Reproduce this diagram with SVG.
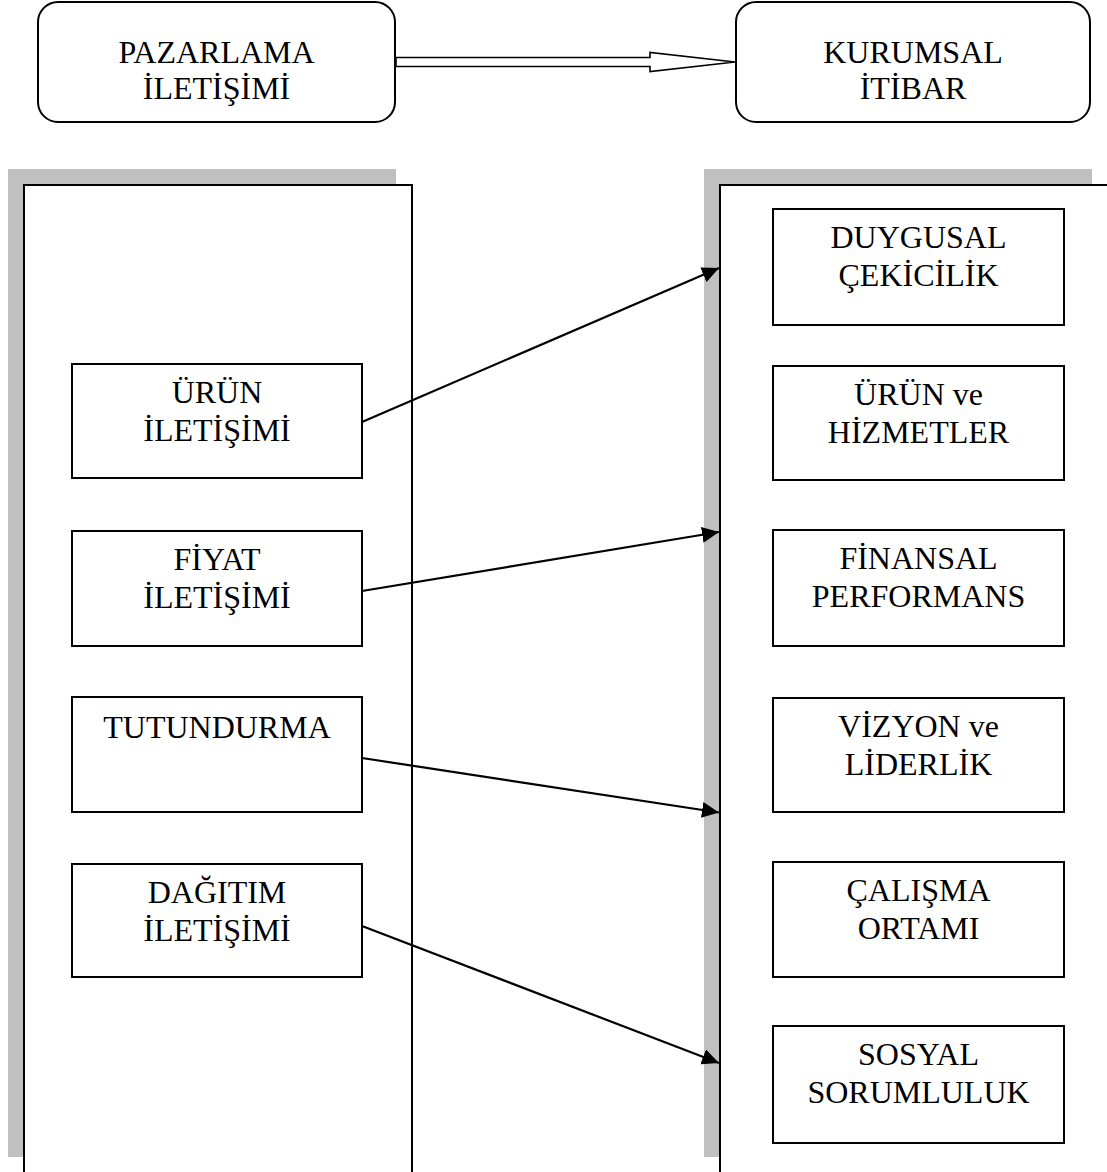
<svg xmlns="http://www.w3.org/2000/svg" width="1107" height="1172" viewBox="0 0 1107 1172">
<defs>
<style>
text{font-family:"Liberation Serif","Times New Roman",serif;font-size:32px;fill:#000;text-anchor:middle}
.box{fill:#fff;stroke:#000;stroke-width:2}
.shadow{fill:#c0c0c0}
.panel{fill:#fff;stroke:#000;stroke-width:2}
.conn{stroke:#000;stroke-width:2.2;fill:none}
</style>
<marker id="ah" markerUnits="userSpaceOnUse" markerWidth="18" markerHeight="16" refX="17" refY="8" orient="auto">
<path d="M0,0 L17,8 L0,16 Z" fill="#000"/>
</marker>
</defs>
<rect width="1107" height="1172" fill="#fff"/>
<g id="pazarlama">
<rect class="box" x="38" y="2" width="357" height="120" rx="20" ry="20"/>
<text x="216.5" y="63">PAZARLAMA</text>
<text x="216.5" y="99">İLETİŞİMİ</text>
</g>
<g id="kurumsal">
<rect class="box" x="736" y="2" width="354" height="120" rx="20" ry="20"/>
<text x="913" y="63">KURUMSAL</text>
<text x="913" y="99">İTİBAR</text>
</g>
<g id="left-panel">
<rect class="shadow" x="8" y="169" width="388" height="988"/>
<rect class="panel" x="24" y="185" width="388" height="1000"/>
</g>
<g id="right-panel">
<rect class="shadow" x="704" y="169" width="388" height="988"/>
<rect class="panel" x="720" y="185" width="400" height="1000"/>
</g>
<g id="urun-iletisimi">
<rect class="box" x="72" y="364" width="290" height="114"/>
<text x="217" y="403">ÜRÜN</text>
<text x="217" y="441">İLETİŞİMİ</text>
</g>
<g id="fiyat-iletisimi">
<rect class="box" x="72" y="531" width="290" height="115"/>
<text x="217" y="570">FİYAT</text>
<text x="217" y="608">İLETİŞİMİ</text>
</g>
<g id="tutundurma">
<rect class="box" x="72" y="697" width="290" height="115"/>
<text x="217" y="738">TUTUNDURMA</text>
</g>
<g id="dagitim-iletisimi">
<rect class="box" x="72" y="864" width="290" height="113"/>
<text x="217" y="903">DAĞITIM</text>
<text x="217" y="941">İLETİŞİMİ</text>
</g>
<g id="duygusal">
<rect class="box" x="773" y="209" width="291" height="116"/>
<text x="918.5" y="248">DUYGUSAL</text>
<text x="918.5" y="286">ÇEKİCİLİK</text>
</g>
<g id="urun-hizmetler">
<rect class="box" x="773" y="366" width="291" height="114"/>
<text x="918.5" y="405">ÜRÜN ve</text>
<text x="918.5" y="443">HİZMETLER</text>
</g>
<g id="finansal">
<rect class="box" x="773" y="530" width="291" height="116"/>
<text x="918.5" y="569">FİNANSAL</text>
<text x="918.5" y="607">PERFORMANS</text>
</g>
<g id="vizyon">
<rect class="box" x="773" y="698" width="291" height="114"/>
<text x="918.5" y="737">VİZYON ve</text>
<text x="918.5" y="775">LİDERLİK</text>
</g>
<g id="calisma">
<rect class="box" x="773" y="862" width="291" height="115"/>
<text x="918.5" y="901">ÇALIŞMA</text>
<text x="918.5" y="939">ORTAMI</text>
</g>
<g id="sosyal">
<rect class="box" x="773" y="1026" width="291" height="117"/>
<text x="918.5" y="1065">SOSYAL</text>
<text x="918.5" y="1103">SORUMLULUK</text>
</g>
<g id="connectors">
<path d="M396,57.5 L650,57.5 L650,52.5 L735,62 L650,71.5 L650,66.5 L396,66.5 Z" fill="#fff" stroke="#000" stroke-width="1.6" stroke-linejoin="miter"/>
<line class="conn" x1="362" y1="422" x2="719" y2="268" marker-end="url(#ah)"/>
<line class="conn" x1="362" y1="591" x2="719" y2="532" marker-end="url(#ah)"/>
<line class="conn" x1="362" y1="758" x2="719" y2="812.5" marker-end="url(#ah)"/>
<line class="conn" x1="362" y1="926" x2="719" y2="1063" marker-end="url(#ah)"/>
</g>
</svg>
